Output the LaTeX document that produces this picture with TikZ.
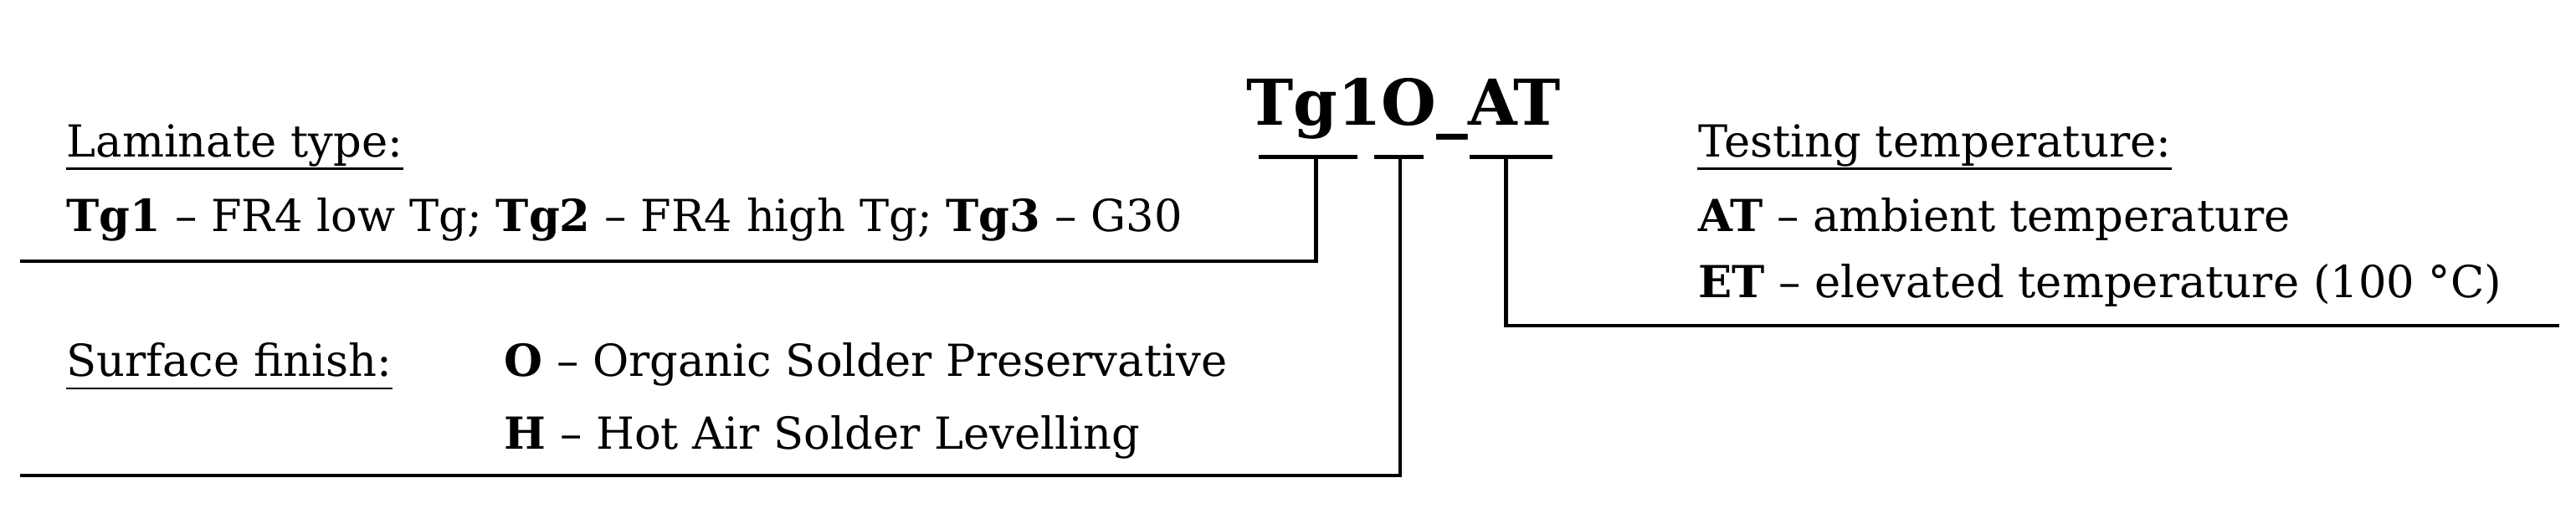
\documentclass[tikz,border=0pt]{standalone}
\usepackage{fontspec}
\setmainfont{DejaVu Serif}
\begin{document}
\begin{tikzpicture}[x=0.01973cm,y=-0.01973cm,
  txt/.style={anchor=base west,inner sep=0pt,font=\fontsize{15}{18}\selectfont},
  ln/.style={line width=1.2pt},
  ul/.style={line width=0.7pt}]
\useasboundingbox (0,0) rectangle (1560,310.7);
\node[anchor=base,inner sep=0pt,font=\fontsize{21.5}{26}\selectfont\bfseries] (title) at (850,76) {Tg1O\_AT};
\coordinate (u1a) at (762,95); \coordinate (u1b) at (822,95);
\coordinate (u2a) at (832,95); \coordinate (u2b) at (862,95);
\coordinate (u3a) at (890,95); \coordinate (u3b) at (940,95);
\draw[ln] (u1a) -- (u1b); \draw[ln] (u2a) -- (u2b); \draw[ln] (u3a) -- (u3b);
\coordinate (e1) at (12,158); \coordinate (e2) at (12,288); \coordinate (e3) at (1550,197);
\draw[ln] (797,95) |- (e1);
\draw[ln] (848,95) |- (e2);
\draw[ln] (912,95) |- (e3);
\node[txt] (lt) at (40,95) {Laminate type:};
\node[txt] (lt2) at (40,140) {\textbf{Tg1} -- FR4 low Tg; \textbf{Tg2} -- FR4 high Tg; \textbf{Tg3} -- G30};
\node[txt] (sf) at (40,228) {Surface finish:};
\node[txt] (sf1) at (305,228) {\textbf{O} -- Organic Solder Preservative};
\node[txt] (sf2) at (305,272) {\textbf{H} -- Hot Air Solder Levelling};
\node[txt] (tt) at (1028,95) {Testing temperature:};
\node[txt] (tt1) at (1028,140) {\textbf{AT} -- ambient temperature};
\node[txt] (tt2) at (1028,180) {\textbf{ET} -- elevated temperature (100 °C)};
\foreach \n in {lt,sf,tt} \draw[ul] ([yshift=-4pt]\n.base west) -- ([yshift=-4pt]\n.base east);
\end{tikzpicture}
\end{document}
